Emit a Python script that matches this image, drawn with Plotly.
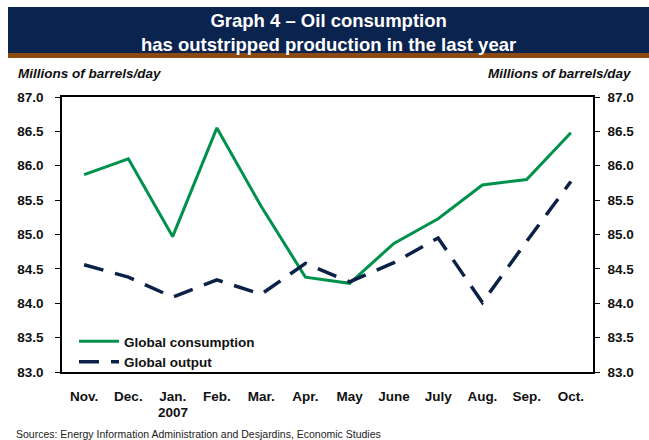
import plotly.graph_objects as go

# Monthly figures, Nov. 2006 to Oct. 2007 (millions of barrels/day)
months = ["Nov.", "Dec.", "Jan.", "Feb.", "Mar.", "Apr.", "May",
          "June", "July", "Aug.", "Sep.", "Oct."]
year_label = "2007"          # printed under the first month of the year
year_month = "Jan."
consumption = [85.87, 86.10, 84.97, 86.55, 85.41, 84.38, 84.29,
               84.87, 85.23, 85.72, 85.80, 86.48]
output = [84.56, 84.38, 84.09, 84.34, 84.13, 84.58, 84.31,
          84.59, 84.95, 84.01, 84.90, 85.77]
y_ticks = [83.0, 83.5, 84.0, 84.5, 85.0, 85.5, 86.0, 86.5, 87.0]

W, H = 649, 440
ML, MR, MT, MB = 62, 56, 97, 68
PW, PH = W - ML - MR, H - MT - MB

FONT = "Liberation Sans, Arial, Helvetica, sans-serif"
NAVY = "#0b234f"
GREEN = "#00914b"
BROWN = "#8a4a12"
INK = "#111111"


def px_x(px):
    return (px - ML) / PW


def px_y(py):
    return (H - MB - py) / PH


fig = go.Figure()
fig.add_trace(go.Scatter(
    x=months, y=consumption, mode="lines", name="Global consumption",
    line=dict(color=GREEN, width=3),
))
fig.add_trace(go.Scatter(
    x=months, y=output, mode="lines", name="Global output",
    line=dict(color="#0c2148", width=3.5, dash="20px,12px"),
))
# invisible trace to carry the right-hand axis
fig.add_trace(go.Scatter(
    x=months, y=output, mode="lines", yaxis="y2", showlegend=False,
    line=dict(width=0), hoverinfo="skip", opacity=0,
))

tick_font = dict(family=FONT, size=13.5, color=INK, weight="bold")
tick_text = [f"{v:.1f}" for v in y_ticks]

fig.update_layout(
    width=W, height=H,
    margin=dict(l=ML, r=MR, t=MT, b=MB),
    paper_bgcolor="white", plot_bgcolor="white",
    font=dict(family=FONT, color=INK),
    xaxis=dict(
        type="category", showgrid=False, zeroline=False,
        showline=True, linecolor="black", linewidth=1.5, mirror=True,
        ticks="", tickfont=tick_font,
        ticklabelstandoff=11,
        range=[-0.5, 11.5],
    ),
    yaxis=dict(
        range=[83, 87], tickvals=y_ticks, ticktext=tick_text,
        showgrid=False, zeroline=False,
        showline=True, linecolor="black", linewidth=1.5,
        ticks="outside", ticklen=5, tickcolor="black", tickwidth=1,
        tickfont=tick_font,
        ticklabelstandoff=9,
    ),
    yaxis2=dict(
        range=[83, 87], tickvals=y_ticks, ticktext=tick_text,
        overlaying="y", side="right", showgrid=False, zeroline=False,
        showline=True, linecolor="black", linewidth=1.5,
        ticks="outside", ticklen=5, tickcolor="black", tickwidth=1,
        tickfont=tick_font,
        ticklabelstandoff=5,
    ),
    legend=dict(
        x=px_x(74), y=px_y(326), xanchor="left", yanchor="top",
        bgcolor="rgba(0,0,0,0)", borderwidth=0,
        font=dict(family=FONT, size=13.5, color=INK, weight="bold"),
        tracegroupgap=0, itemwidth=40,
    ),
    showlegend=True,
)

# header banner with brown rule underneath
fig.add_shape(type="rect", xref="paper", yref="paper",
              x0=px_x(8), x1=px_x(W), y0=px_y(53), y1=px_y(7),
              fillcolor=NAVY, line=dict(width=0), layer="below")
fig.add_shape(type="rect", xref="paper", yref="paper",
              x0=px_x(8), x1=px_x(W), y0=px_y(58), y1=px_y(53),
              fillcolor=BROWN, line=dict(width=0), layer="below")

fig.add_annotation(
    xref="paper", yref="paper", x=px_x(328), y=px_y(32),
    xanchor="center", yanchor="middle", showarrow=False, align="center",
    text="Graph 4 – Oil consumption<br>has outstripped production in the last year",
    font=dict(family=FONT, size=18.5, color="white", weight="bold"),
)
fig.add_annotation(
    xref="paper", yref="paper", x=px_x(16), y=px_y(74),
    xanchor="left", yanchor="middle", showarrow=False,
    text="Millions of barrels/day",
    font=dict(family=FONT, size=13.5, color=INK, weight="bold",
              style="italic"),
)
fig.add_annotation(
    xref="paper", yref="paper", x=px_x(634), y=px_y(74),
    xanchor="right", yanchor="middle", showarrow=False,
    text="Millions of barrels/day",
    font=dict(family=FONT, size=13.5, color=INK, weight="bold",
              style="italic"),
)
# year marker beneath its month label
fig.add_annotation(
    xref="x", yref="paper", x=year_month, y=px_y(412),
    xanchor="center", yanchor="middle", showarrow=False,
    text=year_label, font=tick_font,
)
fig.add_annotation(
    xref="paper", yref="paper", x=px_x(14), y=px_y(434),
    xanchor="left", yanchor="middle", showarrow=False,
    text="Sources: Energy Information Administration and Desjardins, Economic Studies",
    font=dict(family=FONT, size=10.5, color="#222222"),
)

fig.write_html("out.html")
